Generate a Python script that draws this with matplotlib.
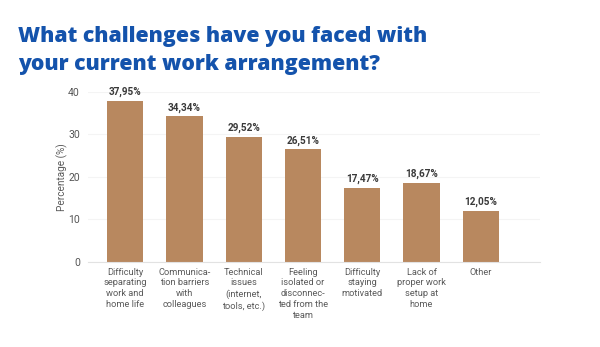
import matplotlib.pyplot as plt

categories = [
    "Difficulty\nseparating\nwork and\nhome life",
    "Communica-\ntion barriers\nwith\ncolleagues",
    "Technical\nissues\n(internet,\ntools, etc.)",
    "Feeling\nisolated or\ndisconnec-\nted from the\nteam",
    "Difficulty\nstaying\nmotivated",
    "Lack of\nproper work\nsetup at\nhome",
    "Other",
]
values = [37.95, 34.34, 29.52, 26.51, 17.47, 18.67, 12.05]
yticks = [0, 10, 20, 30, 40]

fig = plt.figure(figsize=(6, 3.47), dpi=100)
ax = fig.add_axes([0.147, 0.245, 0.753, 0.49])

x = range(len(values))
ax.bar(x, values, width=0.61, color="#b8885f", zorder=2)
for xi, v in zip(x, values):
    ax.text(xi, v + 0.8, f"{v:.2f}".replace(".", ",") + "%", ha="center", va="bottom",
            fontsize=7.2, fontweight="bold", color="#3a3a3a", family="Roboto")

ax.set_xlim(-0.625, 7.0)
ax.set_ylim(0, 40)
ax.set_yticks(yticks)
ax.set_xticks(list(x))
ax.set_xticklabels(categories, fontsize=6.7, color="#5a5a5a", family="Roboto", linespacing=1.27)
ax.tick_params(axis="y", labelsize=7.5, labelcolor="#555555", length=0, pad=6)
ax.tick_params(axis="x", length=0, pad=4)
for lab in ax.get_yticklabels():
    lab.set_family("Roboto")
ax.set_ylabel("Percentage (%)", fontsize=7.2, color="#5a5a5a", family="Roboto", labelpad=0)
ax.yaxis.grid(True, color="#f4f4f4", lw=0.8, zorder=0)
for s in ["top", "right", "left"]:
    ax.spines[s].set_visible(False)
ax.spines["bottom"].set_color("#e2e2e2")

fig.text(0.03, 0.925, "What challenges have you faced with\nyour current work arrangement?",
         fontsize=15.3, fontweight="heavy", color="#1453ac", family="Open Sans",
         va="top", ha="left", linespacing=1.42)

fig.savefig("out.png", dpi=100, facecolor="white")
